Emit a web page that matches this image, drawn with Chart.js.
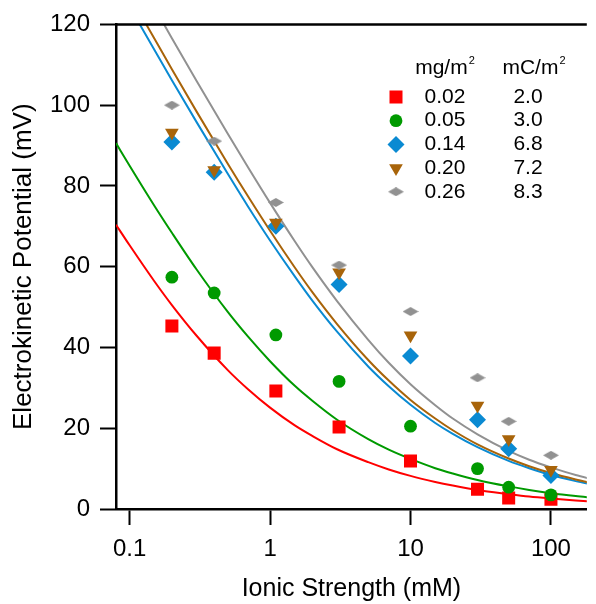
<!DOCTYPE html>
<html lang="en">
<head>
    <meta charset="utf-8">
    <title>Electrokinetic Potential vs Ionic Strength</title>
    <script src="https://cdn.jsdelivr.net/npm/chart.js"></script>
    <style>
        body {
            margin: 0;
            background: #fff;
        }
        #wrap {
            width: 596px;
            height: 604px;
        }
    </style>
</head>
<body>
    <div id="wrap">
        <canvas id="zetaChart" width="596" height="604"></canvas>
    </div>

    <script>
        // measured points
        const ionicStrength = [0.2, 0.4, 1.1, 3.1, 10, 30, 50, 100];
        const potential002 = [45.3, 38.6, 29.2, 20.3, 11.9, 4.9, 2.7, 2.4];
        const potential005 = [57.4, 53.5, 43.1, 31.6, 20.5, 10.0, 5.4, 3.5];
        const potential014 = [90.9, 83.4, 70.0, 55.6, 37.9, 22.1, 14.9, 8.3];
        const potential020 = [93.2, 83.9, 70.9, 58.6, 43.0, 25.6, 17.3, 9.7];
        const potential026 = [100.0, 91.1, 75.9, 60.4, 48.9, 32.5, 21.7, 13.3];

        // model curves
        const fitStrength = [0.08, 0.1, 0.15, 0.2, 0.3, 0.5, 0.7, 1, 1.5, 2, 3, 5, 7, 10, 15, 20, 30, 50, 70, 100, 150, 200];
        const fit002 = [70.4, 65.3, 56.4, 50.5, 42.9, 34.4, 29.6, 25.1, 20.7, 18.1, 14.8, 11.6, 9.8, 8.2, 6.7, 5.8, 4.7, 3.7, 3.1, 2.6, 2.1, 1.8];
        const fit005 = [90.6, 85.0, 75.1, 68.4, 59.3, 48.8, 42.6, 36.6, 30.5, 26.8, 22.1, 17.3, 14.7, 12.4, 10.1, 8.8, 7.2, 5.6, 4.7, 3.9, 3.2, 2.8];
        const fit014 = [130.3, 124.4, 113.7, 106.2, 95.8, 83.0, 74.8, 66.5, 57.6, 51.6, 43.9, 35.3, 30.4, 25.8, 21.3, 18.6, 15.3, 11.9, 10.1, 8.4, 6.9, 6.0];
        const fit020 = [133.1, 127.2, 116.5, 108.9, 98.4, 85.5, 77.3, 68.9, 59.8, 53.7, 45.8, 36.9, 31.8, 27.0, 22.4, 19.5, 16.0, 12.5, 10.6, 8.9, 7.3, 6.3];
        const fit026 = [140.9, 135.0, 124.2, 116.6, 106.0, 92.9, 84.5, 75.8, 66.3, 59.9, 51.5, 41.9, 36.2, 30.9, 25.7, 22.4, 18.5, 14.4, 12.2, 10.3, 8.4, 7.3];

        // legend table
        const coverage = ['0.02', '0.05', '0.14', '0.20', '0.26'];
        const chargeDensity = ['2.0', '3.0', '6.8', '7.2', '8.3'];

        const xTicks = [0.1, 1, 10, 100];
        const yTicks = [0, 20, 40, 60, 80, 100, 120];

        const colors = ['#ff0000', '#009a00', '#0a8ad2', '#a8640a', '#919191'];
        const FONT = "'Liberation Sans', Arial, sans-serif";

        function flatDiamond(color, w, h) {
            const c = document.createElement('canvas');
            c.width = w;
            c.height = h;
            const g = c.getContext('2d');
            g.fillStyle = color;
            g.beginPath();
            g.moveTo(0, h / 2);
            g.lineTo(w / 2, 0);
            g.lineTo(w, h / 2);
            g.lineTo(w / 2, h);
            g.closePath();
            g.fill();
            return c;
        }

        const markers = [
            { pointStyle: 'rect', radius: 9.2, rotation: 0 },
            { pointStyle: 'circle', radius: 6.4, rotation: 0 },
            { pointStyle: 'rectRot', radius: 8.5, rotation: 0 },
            { pointStyle: 'triangle', radius: 7.9, rotation: 180 },
            { pointStyle: flatDiamond(colors[4], 16, 9), radius: 8, rotation: 0 }
        ];

        const pointSeries = [potential002, potential005, potential014, potential020, potential026];
        const fitSeries = [fit002, fit005, fit014, fit020, fit026];

        const toXY = (xs, ys) => xs.map((x, i) => ({ x: x, y: ys[i] }));

        const datasets = [];
        fitSeries.forEach((ys, i) => {
            datasets.push({
                type: 'line',
                data: toXY(fitStrength, ys),
                borderColor: colors[i],
                borderWidth: 2,
                pointRadius: 0,
                fill: false,
                cubicInterpolationMode: 'monotone',
                order: 20 - i
            });
        });
        pointSeries.forEach((ys, i) => {
            datasets.push({
                type: 'scatter',
                data: toXY(ionicStrength, ys),
                backgroundColor: colors[i],
                borderColor: colors[i],
                borderWidth: 0,
                pointStyle: markers[i].pointStyle,
                pointRadius: markers[i].radius,
                rotation: markers[i].rotation,
                order: 4 - i
            });
        });

        // top frame line
        const frameTop = {
            id: 'frameTop',
            afterDraw(chart) {
                const { ctx, chartArea } = chart;
                ctx.save();
                ctx.strokeStyle = '#000';
                ctx.lineWidth = 2.5;
                ctx.beginPath();
                ctx.moveTo(chartArea.left, chartArea.top);
                ctx.lineTo(chartArea.right, chartArea.top);
                ctx.stroke();
                ctx.restore();
            }
        };

        // two-column legend with units header
        const legendTable = {
            id: 'legendTable',
            afterDraw(chart) {
                const ctx = chart.ctx;
                const markX = 396, mgX = 445, mcX = 528;
                const headY = 68, rowY = 97, rowGap = 23.7;
                ctx.save();
                ctx.fillStyle = '#000';
                ctx.textBaseline = 'middle';

                const header = (text, cx) => {
                    ctx.font = '21px ' + FONT;
                    const w = ctx.measureText(text).width;
                    ctx.font = '11px ' + FONT;
                    const s = ctx.measureText('2').width;
                    const left = cx - (w + s + 1) / 2;
                    ctx.font = '21px ' + FONT;
                    ctx.textAlign = 'left';
                    ctx.fillText(text, left, headY);
                    ctx.font = '11px ' + FONT;
                    ctx.fillText('2', left + w + 1, headY - 7);
                };
                header('mg/m', 445);
                header('mC/m', 534);

                ctx.font = '21px ' + FONT;
                ctx.textAlign = 'center';
                coverage.forEach((label, i) => {
                    const y = rowY + i * rowGap;
                    ctx.fillStyle = colors[i];
                    ctx.strokeStyle = colors[i];
                    Chart.helpers.drawPoint(ctx, {
                        pointStyle: markers[i].pointStyle,
                        radius: markers[i].radius,
                        rotation: markers[i].rotation,
                        borderWidth: 0
                    }, markX, y);
                    ctx.fillStyle = '#000';
                    ctx.fillText(label, mgX, y);
                    ctx.fillText(chargeDensity[i], mcX, y);
                });
                ctx.restore();
            }
        };

        new Chart(document.getElementById('zetaChart'), {
            type: 'scatter',
            data: { datasets: datasets },
            plugins: [frameTop, legendTable],
            options: {
                responsive: false,
                animation: false,
                devicePixelRatio: 1,
                events: [],
                layout: { padding: { top: 22, right: 0, left: 0, bottom: 0 } },
                plugins: {
                    legend: { display: false },
                    tooltip: { enabled: false }
                },
                scales: {
                    x: {
                        type: 'logarithmic',
                        min: 0.08,
                        max: 180,
                        afterFit(scale) { scale.height = 95; },
                        afterBuildTicks(scale) {
                            scale.ticks = xTicks.map(v => ({ value: v }));
                        },
                        border: { display: true, color: '#000', width: 2.5 },
                        grid: {
                            drawOnChartArea: false,
                            drawTicks: true,
                            tickLength: 16,
                            tickColor: '#000',
                            tickWidth: 2
                        },
                        ticks: {
                            color: '#000',
                            padding: 10,
                            maxRotation: 0,
                            autoSkip: false,
                            font: { family: FONT, size: 24 },
                            callback: v => String(v)
                        },
                        title: {
                            display: true,
                            text: 'Ionic Strength (mM)',
                            color: '#000',
                            padding: { top: 0, bottom: 0 },
                            font: { family: FONT, size: 25 }
                        }
                    },
                    y: {
                        min: 0,
                        max: 120,
                        afterFit(scale) { scale.width = 116; },
                        afterBuildTicks(scale) {
                            scale.ticks = yTicks.map(v => ({ value: v }));
                        },
                        border: { display: true, color: '#000', width: 2.5 },
                        grid: {
                            drawOnChartArea: false,
                            drawTicks: true,
                            tickLength: 16,
                            tickColor: '#000',
                            tickWidth: 2
                        },
                        ticks: {
                            color: '#000',
                            padding: 10,
                            font: { family: FONT, size: 24 }
                        },
                        title: {
                            display: true,
                            text: 'Electrokinetic Potential (mV)',
                            color: '#000',
                            padding: { top: 8, bottom: 0 },
                            font: { family: FONT, size: 26 }
                        }
                    }
                }
            }
        });
    </script>
</body>
</html>
